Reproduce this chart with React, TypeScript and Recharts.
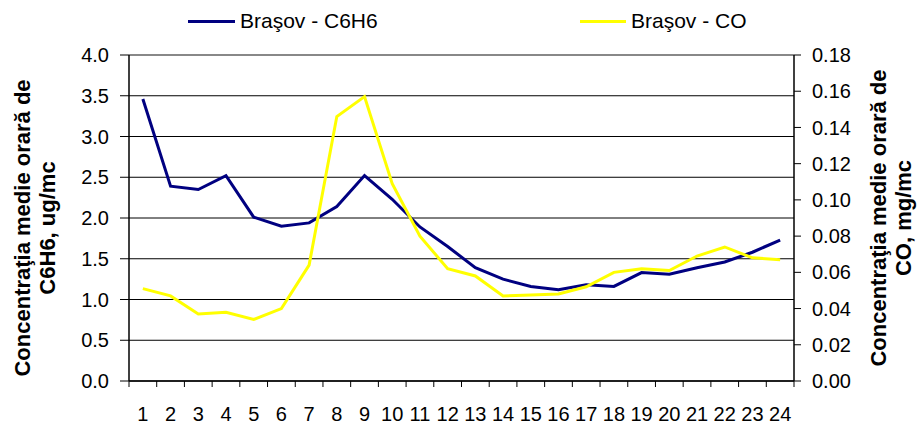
import React from 'react';
import { LineChart, Line, XAxis, YAxis, CartesianGrid, Legend, ReferenceLine } from 'recharts';

const hours = ['1','2','3','4','5','6','7','8','9','10','11','12','13','14','15','16','17','18','19','20','21','22','23','24'];
const c6h6 = [3.46, 2.39, 2.35, 2.52, 2.01, 1.90, 1.94, 2.14, 2.52, 2.23, 1.89, 1.65, 1.39, 1.25, 1.16, 1.12, 1.18, 1.16, 1.33, 1.31, 1.39, 1.46, 1.58, 1.73];
const co = [0.051, 0.047, 0.037, 0.038, 0.034, 0.040, 0.064, 0.146, 0.157, 0.109, 0.080, 0.062, 0.058, 0.047, 0.0475, 0.048, 0.052, 0.060, 0.062, 0.061, 0.069, 0.074, 0.068, 0.067];
const leftTicks = [0, 0.5, 1, 1.5, 2, 2.5, 3, 3.5, 4];
const rightTicks = [0, 0.02, 0.04, 0.06, 0.08, 0.1, 0.12, 0.14, 0.16, 0.18];
const seriesNames = ['Braşov - C6H6', 'Braşov - CO'];
const leftTitle = ['Concentraţia medie orară de', 'C6H6, ug/mc'];
const rightTitle = ['Concentraţia medie orară de', 'CO, mg/mc'];

const data = hours.map((h, i) => ({ hour: h, c6h6: c6h6[i], co: co[i] }));

const FONT = '"Liberation Sans", Arial, sans-serif';
const BLUE = '#000080';
const YELLOW = '#FFFF00';
const TICK_MARGIN = 26;

const TitleLabel = (lines: string[], offsets: number[], dy: number) => (props: any) => {
  const vb = props.viewBox || {};
  const cy = vb.y + vb.height / 2 + dy;
  return (
    <g>
      {lines.map((t, i) => {
        const cx = vb.x + offsets[i];
        return (
          <text key={i} x={cx} y={cy} transform={`rotate(-90, ${cx}, ${cy})`} textAnchor="middle"
            dominantBaseline="central" fontFamily={FONT} fontWeight="bold" fontSize={22} fill="#000">{t}</text>
        );
      })}
    </g>
  );
};

const CatTick = (props: any) => {
  const { x, y, payload, index, visibleTicksCount, width } = props;
  const bw = width / visibleTicksCount;
  const axisY = y - TICK_MARGIN;
  const lines = [x - bw / 2];
  if (index === visibleTicksCount - 1) lines.push(x + bw / 2);
  return (
    <g>
      {lines.map((lx, i) => (
        <line key={i} x1={lx} x2={lx} y1={axisY} y2={axisY + 6} stroke="#000" strokeWidth={1} />
      ))}
      <text x={x} y={y} dy="0.71em" textAnchor="middle" fontFamily={FONT} fontSize={20} fill="#000">{payload.value}</text>
    </g>
  );
};

const LegendItem = ({ color, label, left, lineW }: any) => (
  <div style={{ position: 'absolute', left, top: 0, height: 30, display: 'flex', alignItems: 'center' }}>
    <div style={{ width: lineW, height: 3, background: color }} />
    <span style={{ marginLeft: 5, fontFamily: FONT, fontSize: 21, lineHeight: '30px', color: '#000', whiteSpace: 'nowrap' }}>{label}</span>
  </div>
);

const LegendContent = () => (
  <div style={{ position: 'relative', width: 918, height: 30 }}>
    <LegendItem color={BLUE} label={seriesNames[0]} left={188} lineW={47} />
    <LegendItem color={YELLOW} label={seriesNames[1]} left={580} lineW={46} />
  </div>
);

export default function App() {
  return (
    <div style={{ position: 'absolute', left: 0, top: 0, width: 918, height: 424, background: '#fff' }}>
      <LineChart width={918} height={424} data={data} margin={{ top: 25, right: 0, bottom: 0, left: 0 }}>
        <CartesianGrid yAxisId="left" xAxisId="cat" horizontal vertical={false} stroke="#000" strokeOpacity={1} />
        <XAxis xAxisId="cat" dataKey="hour" type="category" scale="band" tickLine={false} tickSize={0} tickMargin={TICK_MARGIN} height={43}
          axisLine={{ stroke: '#000', strokeWidth: 1.5 }} interval={0} tick={<CatTick />} />
        <YAxis yAxisId="left" domain={[0, 4]} ticks={leftTicks} width={129} tickSize={9} tickMargin={11}
          tickFormatter={(v: number) => v.toFixed(1)} axisLine={{ stroke: '#000', strokeWidth: 1.5 }} tickLine={{ stroke: '#000' }}
          tick={{ fill: '#000', fontSize: 20, fontFamily: FONT }}
          label={{ content: TitleLabel(leftTitle, [22, 47], 10) }} />
        <YAxis yAxisId="right" orientation="right" domain={[0, 0.18]} ticks={rightTicks} width={124} tickSize={7} tickMargin={11}
          tickFormatter={(v: number) => v.toFixed(2)} axisLine={{ stroke: '#000', strokeWidth: 1.5 }} tickLine={{ stroke: '#000' }}
          tick={{ fill: '#000', fontSize: 20, fontFamily: FONT }}
          label={{ content: TitleLabel(rightTitle, [84, 109], 0) }} />
        <ReferenceLine yAxisId="left" xAxisId="cat" y={4} stroke="#888" strokeWidth={2} />
        <Legend verticalAlign="top" content={LegendContent} wrapperStyle={{ top: 6, left: 0, width: 918, height: 30 }} />
        <Line xAxisId="cat" yAxisId="left" type="linear" dataKey="c6h6" name={seriesNames[0]} stroke={BLUE} strokeWidth={3} dot={false} isAnimationActive={false} />
        <Line xAxisId="cat" yAxisId="right" type="linear" dataKey="co" name={seriesNames[1]} stroke={YELLOW} strokeWidth={3} dot={false} isAnimationActive={false} />
      </LineChart>
    </div>
  );
}
